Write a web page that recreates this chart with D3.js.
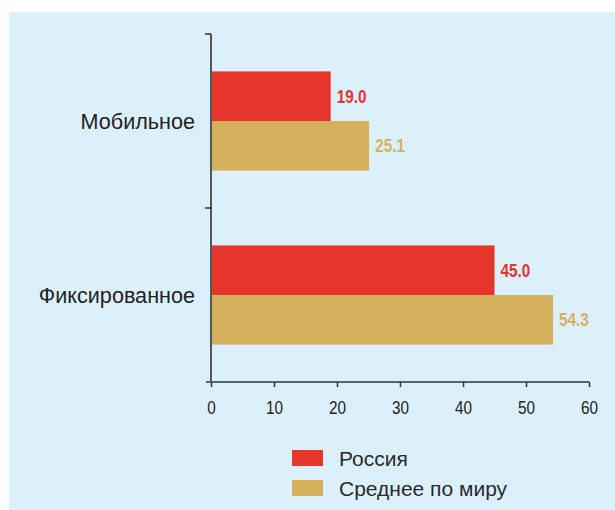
<!DOCTYPE html>
<html>
<head>
<meta charset="utf-8">
<script src="https://cdn.jsdelivr.net/npm/d3@7"></script>
<style>
  html, body { margin: 0; padding: 0; background: #ffffff; }
  svg { display: block; }
</style>
</head>
<body>
<svg id="chart" width="615" height="510"></svg>
<script>
// Categories (top to bottom) and series
const categories = ["Мобильное", "Фиксированное"];
const seriesNames = ["Россия", "Среднее по миру"];
const russia = [19.0, 45.0];
const world = [25.1, 54.3];
const xTicks = [0, 10, 20, 30, 40, 50, 60];

const colors = { "Россия": "#e6352a", "Среднее по миру": "#d5b15d" };
const labelColors = { "Россия": "#e6352a", "Среднее по миру": "#d4b15f" };

// Condensed look for numbers: regular sans squeezed horizontally
const NARROW = 0.85;

const svg = d3.select("#chart");

// Light blue panel
svg.append("rect")
  .attr("x", 9).attr("y", 12)
  .attr("width", 606).attr("height", 498)
  .attr("fill", "#dcf0fb");

const plotLeft = 211, plotRight = 589, plotTop = 34, plotBottom = 382;

const x = d3.scaleLinear().domain([0, 60]).range([plotLeft, plotRight]);
const y = d3.scaleBand().domain(categories).range([plotTop, plotBottom])
  .paddingInner(0.43).paddingOuter(0.215);
const ySub = d3.scaleBand().domain(seriesNames).range([0, y.bandwidth()]);

const rows = categories.map((c, i) => ({
  category: c,
  values: [
    { series: "Россия", value: russia[i] },
    { series: "Среднее по миру", value: world[i] }
  ]
}));

// Bars
const groups = svg.append("g").selectAll("g")
  .data(rows).join("g")
  .attr("transform", d => `translate(0,${y(d.category)})`);

groups.selectAll("rect")
  .data(d => d.values).join("rect")
  .attr("x", x(0))
  .attr("y", d => ySub(d.series))
  .attr("width", d => x(d.value) - x(0))
  .attr("height", ySub.bandwidth())
  .attr("fill", d => colors[d.series]);

// Value labels
groups.selectAll("text")
  .data(d => d.values).join("text")
  .attr("transform", d => `translate(${x(d.value) + 6},${ySub(d.series) + ySub.bandwidth() / 2}) scale(${NARROW},1)`)
  .attr("dy", "0.36em")
  .attr("font-family", "'Liberation Sans', Arial, sans-serif")
  .attr("font-weight", "bold")
  .attr("font-size", 18)
  .attr("fill", d => labelColors[d.series])
  .text(d => d.value.toFixed(1));

// X axis
const xAxis = svg.append("g")
  .attr("transform", `translate(0,${plotBottom})`)
  .call(d3.axisBottom(x).tickValues(xTicks).tickSize(5).tickSizeOuter(0).tickPadding(14));
xAxis.select(".domain").attr("stroke", "#333").attr("stroke-width", 1.5)
  .attr("d", `M${plotLeft - 5},0H${plotRight}`);
xAxis.selectAll(".tick line").attr("stroke", "#333").attr("stroke-width", 1.5);
xAxis.selectAll(".tick text")
  .attr("transform", `scale(${NARROW},1)`)
  .attr("x", 0)
  .attr("font-family", "'Liberation Sans', Arial, sans-serif")
  .attr("font-size", 18)
  .attr("fill", "#222");

// Y axis: line with ticks at the band boundaries
const step = y.step();
const boundaries = [plotTop, ...categories.map(c => y(c) + y.bandwidth() + step * y.paddingInner() / 2)];
const yAxis = svg.append("g");
yAxis.append("line")
  .attr("x1", plotLeft).attr("x2", plotLeft)
  .attr("y1", plotTop).attr("y2", plotBottom)
  .attr("stroke", "#555").attr("stroke-width", 2);
yAxis.selectAll("line.tick")
  .data(boundaries.slice(0, 2)).join("line")
  .attr("class", "tick")
  .attr("x1", plotLeft - 6).attr("x2", plotLeft)
  .attr("y1", d => d).attr("y2", d => d)
  .attr("stroke", "#333").attr("stroke-width", 1.5);

// Category labels
svg.append("g").selectAll("text")
  .data(categories).join("text")
  .attr("x", 195)
  .attr("y", d => y(d) + y.bandwidth() / 2)
  .attr("dy", "0.36em")
  .attr("text-anchor", "end")
  .attr("font-family", "'Liberation Sans', Arial, sans-serif")
  .attr("font-size", 21.6)
  .attr("fill", "#222")
  .text(d => d);

// Legend
const legend = svg.append("g").attr("transform", "translate(292,450)");
const items = legend.selectAll("g").data(seriesNames).join("g")
  .attr("transform", (d, i) => `translate(0,${i * 30})`);
items.append("rect")
  .attr("width", 31).attr("height", 16)
  .attr("fill", d => colors[d]);
items.append("text")
  .attr("x", 47).attr("y", 8)
  .attr("dy", "0.36em")
  .attr("font-family", "'Liberation Sans', Arial, sans-serif")
  .attr("font-size", 21)
  .attr("fill", "#2a2a2a")
  .text(d => d);
</script>
</body>
</html>
